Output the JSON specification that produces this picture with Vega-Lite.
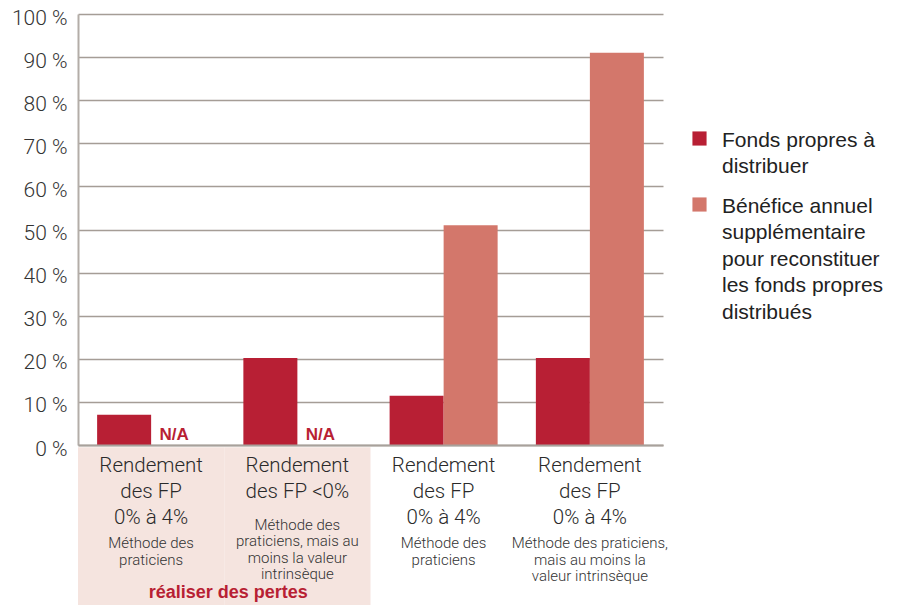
{
  "$schema": "https://vega.github.io/schema/vega-lite/v6.json",
  "width": 585,
  "height": 431,
  "autosize": {"type": "none"},
  "padding": {"left": 78, "top": 14, "right": 249, "bottom": 160},
  "background": "white",
  "config": {
    "view": {"stroke": null},
    "font": "Liberation Sans",
    "text": {"font": "Liberation Sans"},
    "style": {"guide-label": {"lineHeight": 26.6, "dy": 8}}
  },
  "datasets": {
    "bars": [
      {"cat": "A", "series": "Fonds propres à\ndistribuer", "value": 7},
      {"cat": "A", "series": "Bénéfice annuel\nsupplémentaire\npour reconstituer\nles fonds propres\ndistribués", "value": null, "note": "N/A"},
      {"cat": "B", "series": "Fonds propres à\ndistribuer", "value": 20.2},
      {"cat": "B", "series": "Bénéfice annuel\nsupplémentaire\npour reconstituer\nles fonds propres\ndistribués", "value": null, "note": "N/A"},
      {"cat": "C", "series": "Fonds propres à\ndistribuer", "value": 11.4},
      {"cat": "C", "series": "Bénéfice annuel\nsupplémentaire\npour reconstituer\nles fonds propres\ndistribués", "value": 51},
      {"cat": "D", "series": "Fonds propres à\ndistribuer", "value": 20.2},
      {"cat": "D", "series": "Bénéfice annuel\nsupplémentaire\npour reconstituer\nles fonds propres\ndistribués", "value": 91}
    ],
    "labels": [
      {"cat": "A", "big": "Rendement\ndes FP\n0% à 4%", "small": "Méthode des\npraticiens", "shade": true},
      {"cat": "B", "big": "Rendement\ndes FP <0%", "small": "Méthode des\npraticiens, mais au\nmoins la valeur\nintrinsèque", "shade": true},
      {"cat": "C", "big": "Rendement\ndes FP\n0% à 4%", "small": "Méthode des\npraticiens", "shade": false},
      {"cat": "D", "big": "Rendement\ndes FP\n0% à 4%", "small": "Méthode des praticiens,\nmais au moins la\nvaleur intrinsèque", "shade": false}
    ],
    "note": [
      {"cat": "B", "text": "réaliser des pertes"}
    ]
  },
  "layer": [
    {
      "data": {"name": "labels"},
      "transform": [{"filter": "datum.shade"}],
      "mark": {"type": "rect", "color": "#f5e4df"},
      "encoding": {
        "x": {"field": "cat", "type": "nominal"},
        "y": {"datum": -0.5, "type": "quantitative", "scale": {"domain": [0, 100]}},
        "y2": {"datum": -37.3}
      }
    },
    {
      "data": {"name": "bars"},
      "mark": {"type": "bar"},
      "encoding": {
        "x": {
          "field": "cat", "type": "nominal",
          "scale": {"domain": ["A", "B", "C", "D"], "paddingInner": 0, "paddingOuter": 0},
          "axis": {"title": null, "labels": false, "ticks": false, "domainColor": "#a8a19b", "domainWidth": 2}
        },
        "xOffset": {
          "field": "series", "type": "nominal",
          "scale": {"paddingInner": 0, "paddingOuter": 0.354, "domain": ["Fonds propres à\ndistribuer", "Bénéfice annuel\nsupplémentaire\npour reconstituer\nles fonds propres\ndistribués"]}
        },
        "y": {
          "field": "value", "type": "quantitative",
          "scale": {"domain": [0, 100], "nice": false},
          "axis": {
            "title": null, "values": [0, 10, 20, 30, 40, 50, 60, 70, 80, 90, 100],
            "labelExpr": "datum.value + ' %'", "labelFontSize": 21, "labelColor": "#333333",
            "labelFont": "Roboto", "labelFontWeight": 300, "labelOffset": -4,
            "labelPadding": 11, "ticks": false, "domainColor": "#b3ada8", "domainWidth": 2,
            "grid": true, "gridColor": "#a59d96", "gridWidth": 1.3
          }
        },
        "color": {
          "field": "series", "type": "nominal",
          "scale": {"domain": ["Fonds propres à\ndistribuer", "Bénéfice annuel\nsupplémentaire\npour reconstituer\nles fonds propres\ndistribués"], "range": ["#b81f34", "#d3776b"]},
          "legend": {
            "title": null, "orient": "none", "legendX": 611, "legendY": 114,
            "symbolType": "square", "symbolSize": 200, "symbolOpacity": 1,
            "labelExpr": "split(datum.label, '\\n')",
            "labelFontSize": 21, "labelFont": "Liberation Sans", "labelColor": "#222222",
            "labelLimit": 300, "labelOffset": 12, "rowPadding": 16, "labelBaseline": "alphabetic"
          }
        }
      }
    },
    {
      "data": {"name": "bars"},
      "transform": [{"filter": "datum.note"}],
      "mark": {"type": "text", "fontWeight": "bold", "fontSize": 17, "color": "#b81f34", "baseline": "alphabetic", "dy": -5, "dx": -4},
      "encoding": {
        "x": {"field": "cat", "type": "nominal"},
        "xOffset": {"field": "series", "type": "nominal"},
        "y": {"datum": 0, "type": "quantitative"},
        "text": {"field": "note"}
      }
    },
    {
      "data": {"name": "labels"},
      "mark": {"type": "text", "fontSize": 20.5, "font": "Roboto", "fontWeight": 300, "color": "#2a2a2a", "baseline": "alphabetic", "lineBreak": "\n", "lineHeight": 26},
      "encoding": {
        "x": {"field": "cat", "type": "nominal"},
        "y": {"datum": -6.33, "type": "quantitative"},
        "text": {"field": "big"}
      }
    },
    {
      "data": {"name": "labels"},
      "transform": [{"filter": "datum.cat != 'B'"}],
      "mark": {"type": "text", "fontSize": 15, "font": "Roboto", "fontWeight": 300, "color": "#333333", "baseline": "alphabetic", "lineBreak": "\n", "lineHeight": 16.5},
      "encoding": {
        "x": {"field": "cat", "type": "nominal"},
        "y": {"datum": -23.9, "type": "quantitative"},
        "text": {"field": "small"}
      }
    },
    {
      "data": {"name": "labels"},
      "transform": [{"filter": "datum.cat == 'B'"}],
      "mark": {"type": "text", "fontSize": 15, "font": "Roboto", "fontWeight": 300, "color": "#333333", "baseline": "alphabetic", "lineBreak": "\n", "lineHeight": 16.5},
      "encoding": {
        "x": {"field": "cat", "type": "nominal"},
        "y": {"datum": -19.7, "type": "quantitative"},
        "text": {"field": "small"}
      }
    },
    {
      "data": {"name": "note"},
      "mark": {"type": "text", "fontSize": 18, "fontWeight": "bold", "color": "#b81f34", "baseline": "alphabetic", "dx": 4},
      "encoding": {
        "x": {"field": "cat", "type": "nominal", "bandPosition": 0},
        "y": {"datum": -35.5, "type": "quantitative"},
        "text": {"field": "text"}
      }
    }
  ]
}
